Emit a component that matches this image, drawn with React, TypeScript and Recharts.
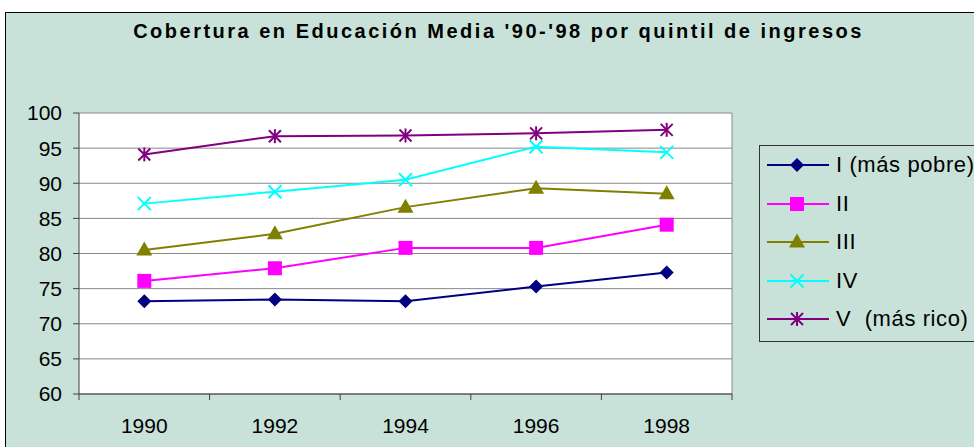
import { LineChart, Line, XAxis, YAxis, CartesianGrid, ReferenceLine } from 'recharts'

const years = [1990, 1992, 1994, 1996, 1998]
const quintilI = [73.2, 73.45, 73.2, 75.3, 77.3]
const quintilII = [76.1, 77.9, 80.8, 80.8, 84.1]
const quintilIII = [80.5, 82.8, 86.6, 89.3, 88.5]
const quintilIV = [87.1, 88.8, 90.5, 95.2, 94.4]
const quintilV = [94.1, 96.7, 96.8, 97.1, 97.6]
const yTicks = [60, 65, 70, 75, 80, 85, 90, 95, 100]

const seriesNames = ['I (más pobre)', 'II', 'III', 'IV', 'V  (más rico)']
const seriesKeys = ['q1', 'q2', 'q3', 'q4', 'q5']
const seriesColors = ['#000080', '#FF00FF', '#808000', '#00FFFF', '#800080']
const seriesShapes = ['diamond', 'square', 'triangle', 'cross', 'star']

const data = years.map((year, i) => ({
  year,
  q1: quintilI[i],
  q2: quintilII[i],
  q3: quintilIII[i],
  q4: quintilIV[i],
  q5: quintilV[i],
}))

// category boundaries (Excel puts tick marks between the categories)
const step = years[1] - years[0]
const bounds = [...years.map(y => y - step / 2), years[years.length - 1] + step / 2]
const xTicks = [...bounds, ...years].sort((a, b) => a - b)

const FONT = '"Liberation Sans", Arial, sans-serif'
const BG = '#C8E2D9'

function Marker({ shape, cx, cy, color }: { shape: string; cx: number; cy: number; color: string }) {
  if (cx == null || cy == null) return null
  switch (shape) {
    case 'diamond':
      return <polygon points={`${cx},${cy - 7} ${cx + 7},${cy} ${cx},${cy + 7} ${cx - 7},${cy}`} fill={color} />
    case 'square':
      return <rect x={cx - 7} y={cy - 7} width={14} height={14} fill={color} />
    case 'triangle':
      return <polygon points={`${cx},${cy - 8.5} ${cx + 8},${cy + 5.5} ${cx - 8},${cy + 5.5}`} fill={color} />
    case 'cross':
      return (
        <g stroke={color} strokeWidth={2}>
          <line x1={cx - 6.5} y1={cy - 6.5} x2={cx + 6.5} y2={cy + 6.5} />
          <line x1={cx - 6.5} y1={cy + 6.5} x2={cx + 6.5} y2={cy - 6.5} />
        </g>
      )
    default:
      return (
        <g stroke={color} strokeWidth={2}>
          <line x1={cx - 6} y1={cy - 6} x2={cx + 6} y2={cy + 6} />
          <line x1={cx - 6} y1={cy + 6} x2={cx + 6} y2={cy - 6} />
          <line x1={cx} y1={cy - 7} x2={cx} y2={cy + 7} />
        </g>
      )
  }
}

function XTick(props: any) {
  const { x, y, payload } = props
  if (bounds.includes(payload.value)) {
    return <line x1={x} y1={y - 6} x2={x} y2={y} stroke="#404040" />
  }
  return (
    <text x={x} y={y + 25} textAnchor="middle" dominantBaseline="central" fontSize={21} fill="#000" fontFamily={FONT}>
      {payload.value}
    </text>
  )
}

function LegendBox() {
  return (
    <div style={{ position: 'absolute', left: 753, top: 132, border: '1px solid #333', width: 260, height: 197, boxSizing: 'border-box' }}>
      {seriesNames.map((name, i) => (
        <div key={name} style={{ display: 'flex', alignItems: 'center', height: 38.5 }}>
          <svg width={76} height={20} style={{ flex: 'none' }}>
            <line x1={7} y1={10} x2={69} y2={10} stroke={seriesColors[i]} strokeWidth={2} />
            <Marker shape={seriesShapes[i]} cx={37} cy={10} color={seriesColors[i]} />
          </svg>
          <span style={{ fontFamily: FONT, fontSize: 22, color: '#000', whiteSpace: 'pre', letterSpacing: 0.6 }}>{name}</span>
        </div>
      ))}
    </div>
  )
}

export default function App() {
  return (
    <div style={{ position: 'fixed', inset: 0, overflow: 'hidden', background: '#fff' }}>
      <div style={{ position: 'absolute', left: 5, top: 12, width: 1000, height: 460, background: BG, border: '1px solid #000' }}>
        <div style={{ position: 'absolute', left: 0, top: 7, width: 985, textAlign: 'center', fontFamily: FONT, fontWeight: 'bold', fontSize: 20, letterSpacing: 2.5 }}>
          Cobertura en Educación Media '90-'98 por quintil de ingresos
        </div>
        <LineChart width={1000} height={450} data={data} margin={{ top: 100, right: 274, bottom: 0, left: 0 }}>
          <CartesianGrid horizontal vertical={false} stroke="#888" fill="#fff" />
          <XAxis
            dataKey="year"
            type="number"
            domain={[bounds[0], bounds[bounds.length - 1]]}
            ticks={xTicks}
            interval={0}
            tick={<XTick />}
            tickLine={false}
            tickSize={6}
            tickMargin={0}
            height={69}
            axisLine={{ stroke: '#404040' }}
          />
          <YAxis
            domain={[60, 100]}
            ticks={yTicks}
            interval={0}
            width={73}
            tickSize={6}
            tickMargin={11}
            tickLine={{ stroke: '#404040' }}
            axisLine={{ stroke: '#404040' }}
            tick={{ fontSize: 21, fill: '#000', fontFamily: FONT }}
          />
          <ReferenceLine x={bounds[bounds.length - 1]} stroke="#888" />
          {seriesKeys.map((k, i) => (
            <Line
              key={k}
              dataKey={k}
              name={seriesNames[i]}
              stroke={seriesColors[i]}
              strokeWidth={2}
              isAnimationActive={false}
              dot={(p: any) => <Marker key={`${k}-${p.index}`} shape={seriesShapes[i]} cx={p.cx} cy={p.cy} color={seriesColors[i]} />}
              activeDot={false}
            />
          ))}
        </LineChart>
        <LegendBox />
      </div>
    </div>
  )
}
